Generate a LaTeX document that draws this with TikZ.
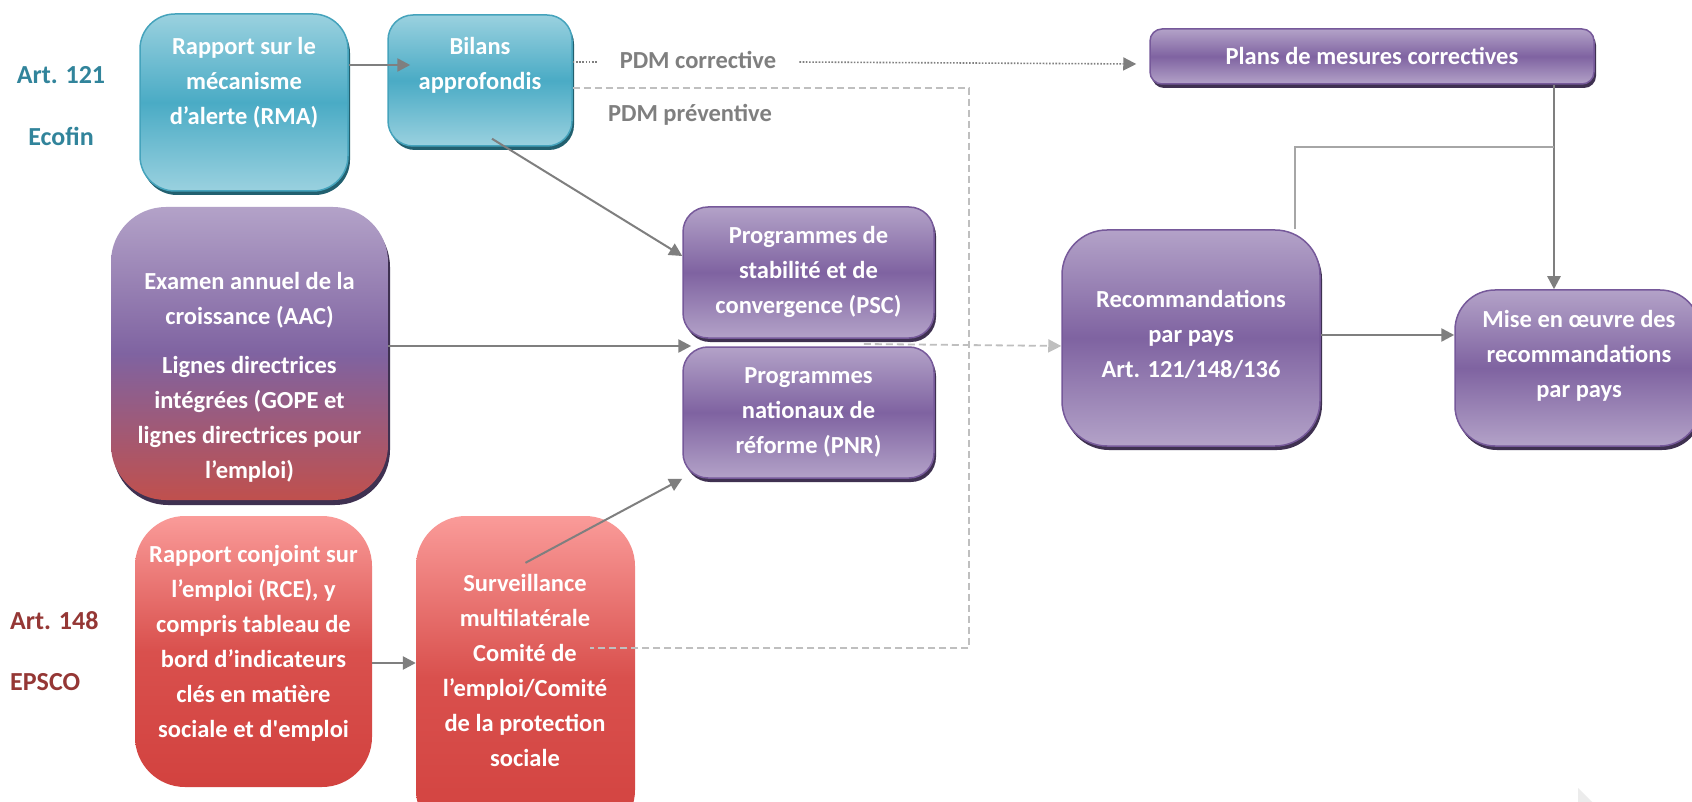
\documentclass[tikz,border=0pt]{standalone}
\usepackage{fontspec}
\setmainfont{Carlito}
\usetikzlibrary{arrows.meta,shadows,calc}
\definecolor{tealL}{HTML}{9AD1DF}
\definecolor{tealM}{HTML}{4AABC5}
\definecolor{tealB}{HTML}{45A3BC}
\definecolor{tealS}{HTML}{22606F}
\definecolor{purL}{HTML}{B3A2C8}
\definecolor{purM}{HTML}{7F63A1}
\definecolor{purB}{HTML}{76599A}
\definecolor{purS}{HTML}{3F3151}
\definecolor{redL}{HTML}{FA9B99}
\definecolor{redMid}{HTML}{D9504D}
\definecolor{redM}{HTML}{D2423F}
\definecolor{aacR}{HTML}{C0504D}
\definecolor{lineG}{HTML}{7F7F7F}
\definecolor{lightG}{HTML}{A6A6A6}
\definecolor{dashG}{HTML}{BFBFBF}
\definecolor{tealT}{HTML}{31849B}
\definecolor{redT}{HTML}{953735}
\definecolor{grayT}{HTML}{7F7F7F}
\begin{document}
\begin{tikzpicture}[x=1pt,y=-1pt,
  boxbase/.style={rectangle, inner sep=0pt, rounded corners=#1},
  tealbox/.style={boxbase=#1, top color=tealL, bottom color=tealL, middle color=tealM,
     draw=tealB, line width=1.5pt,
     drop shadow={shadow xshift=2pt, shadow yshift=-4pt, fill=tealS, opacity=1}},
  purbox/.style={boxbase=#1, top color=purL, bottom color=purL, middle color=purM,
     draw=purB, line width=1.5pt,
     drop shadow={shadow xshift=2pt, shadow yshift=-4pt, fill=purS, opacity=1}},
  aacbox/.style={boxbase=#1, top color=purL, bottom color=aacR, middle color=purM,
     drop shadow={shadow xshift=2pt, shadow yshift=-5pt, fill=purS, opacity=1}},
  redbox/.style={boxbase=#1, top color=redL, bottom color=redM, middle color=redMid},
  txt/.style={text=white, font=\bfseries\fontsize{24.5}{35}\selectfont, align=center, inner sep=0pt},
  lab/.style={font=\bfseries\fontsize{26}{30}\selectfont, inner sep=0pt},
  pdm/.style={text=grayT, font=\bfseries\fontsize{24.5}{30}\selectfont, inner sep=0pt},
  arr/.style={draw=lineG, line width=2.5pt, -{Triangle[length=13pt,width=13pt]}},
  arrthin/.style={draw=lineG, line width=2pt, -{Triangle[length=13pt,width=13pt]}},
  thinline/.style={draw=lightG, line width=2pt},
  dotline/.style={draw=lineG, line width=1.6pt, dash pattern=on 1.6pt off 1.6pt},
  dashline/.style={draw=dashG, line width=1.8pt, dash pattern=on 7pt off 4pt},
]
\clip (0,0) rectangle (1692,802);
\fill[white] (0,0) rectangle (1692,802);

% boxes
\node[tealbox=35pt, minimum width=208pt, minimum height=177pt] (rma) at (244,102.5) {};
\node[tealbox=25pt, minimum width=184pt, minimum height=131pt] (bilans) at (480,80.5) {};
\node[purbox=12pt, minimum width=444pt, minimum height=55pt] (plans) at (1372,56.5) {};
\node[aacbox=55pt, minimum width=277pt, minimum height=293pt] (aac) at (249.5,353.5) {};
\node[purbox=25pt, minimum width=251pt, minimum height=131pt] (psc) at (808.5,272.5) {};
\node[purbox=25pt, minimum width=251pt, minimum height=131pt] (pnr) at (808.5,412.5) {};
\node[purbox=45pt, minimum width=258pt, minimum height=216pt] (reco) at (1191,338) {};
\node[purbox=40pt, minimum width=245pt, minimum height=156pt] (mise) at (1577.5,368) {};
\node[redbox=50pt, minimum width=237pt, minimum height=271pt] (rce) at (253.5,651.5) {};
\node[redbox=50pt, minimum width=219pt, minimum height=324pt] (surv) at (525.5,678) {};

% texts
\node[txt] (rmat) at (244,83) {Rapport sur le\\mécanisme\\d’alerte (RMA)};
\node[txt] (bilanst) at (480,65) {Bilans\\approfondis};
\node[txt] (planst) at (1372,56) {Plans de mesures correctives};
\node[txt] (aact) at (249.5,377) {Examen annuel de la\\croissance (AAC)\\[14pt]Lignes directrices\\intégrées (GOPE et\\lignes directrices pour\\l’emploi)};
\node[txt] (psct) at (808.5,272) {Programmes de\\stabilité et de\\convergence (PSC)};
\node[txt] (pnrt) at (808.5,412) {Programmes\\nationaux de\\réforme (PNR)};
\node[txt] (recot) at (1191,334) {Recommandations\\par pays\\Art. 121/148/136};
\node[txt] (miset) at (1579,356) {Mise en œuvre des\\recommandations\\par pays};
\node[txt] (rcet) at (253.5,643) {Rapport conjoint sur\\l’emploi (RCE), y\\compris tableau de\\bord d’indicateurs\\clés en matière\\sociale et d\textquotesingle emploi};
\node[txt] (survt) at (525,670) {Surveillance\\multilatérale\\Comité de\\l’emploi/Comité\\de la protection\\sociale};

% side labels
\node[lab, text=tealT] (art121) at (61,75) {Art. 121};
\node[lab, text=tealT] (ecofin) at (61,136) {Ecofin};
\node[lab, text=redT, anchor=west] (art148) at (10,621) {Art. 148};
\node[lab, text=redT, anchor=west] (epsco) at (10,682) {EPSCO};
\node[pdm] (pdmc) at (698,60) {PDM corrective};
\node[pdm] (pdmp) at (690,115) {PDM préventive};

% coordinates
\coordinate (dv) at (969,88);
\coordinate (vx) at (1554,147);
\coordinate (hx) at (1295,147);

% connectors
\draw[arr] (rma.east |- 0,65) -- ([xshift=23pt]bilans.west |- 0,65);
\draw[arrthin] ($(bilans.south)+(12,-8)$) -- (psc.west |- 0,256);
\draw[arr] (aac.east |- 0,346) -- ([xshift=9pt]psc.west |- 0,346);
\draw[arr] (rce.east |- 0,663) -- (surv.west |- 0,663);
\draw[arrthin] ($(surv.north)+(0,47)$) -- (pnr.south west);
\draw[arr] (plans.south -| vx) -- (mise.north -| vx);
\draw[thinline] (reco.north -| hx) -- (hx) -- (vx);
\draw[arr] (reco.east |- 0,335) -- (mise.west |- 0,335);

\draw[dotline] (bilans.east |- 0,62) -- ([xshift=-23pt]pdmc.west |- 0,62);
\draw[dotline, -{Triangle[length=13pt,width=13pt,fill=lineG]}] ([xshift=23pt]pdmc.east |- 0,62) -- ([xshift=-13pt]plans.west |- 0,64);

\draw[dashline] (bilans.east |- dv) -- (dv) -- (dv |- 0,648) -- ([xshift=-45pt]surv.east |- 0,648);
\draw[dashline, -{Triangle[length=13pt,width=13pt,fill=dashG]}] ([xshift=-71pt]psc.south east |- 0,344) -- (reco.west |- 0,346);

% page corner artifact
\fill[gray!15] (1578,788) -- (1578,802) -- (1592,802) -- cycle;
\end{tikzpicture}
\end{document}
